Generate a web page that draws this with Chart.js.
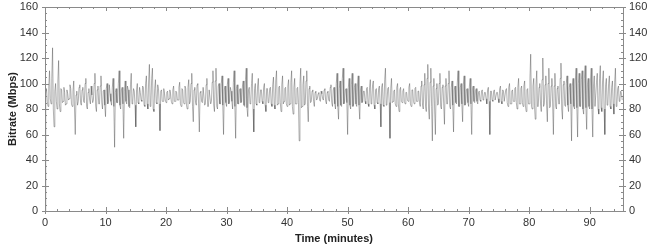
<!DOCTYPE html>
<html>
<head>
<meta charset="utf-8">
<script src="https://cdn.jsdelivr.net/npm/chart.js@4/dist/chart.umd.min.js"></script>
<style>
  html, body { margin: 0; padding: 0; background: #fff; }
  #wrap { width: 650px; height: 246px; }
</style>
</head>
<body>
<div id="wrap"><canvas id="bitrateChart" width="650" height="246"></canvas></div>
<script>
// Bitrate samples, 8 per minute (every 7.5 s)
const STEP_MIN = 0.125;
const bitrate = [
  0, 92, 96, 86, 82, 98, 110, 88,     84, 104, 128, 80, 66, 94, 100, 86,
  80, 102, 118, 84, 78, 96, 95, 85,   86, 97, 93, 83, 84, 95, 92, 87,
  88, 99, 96, 84, 82, 94, 102, 80,    60, 91, 94, 83, 86, 97, 99, 85,
  83, 95, 97, 86, 85, 100, 104, 82,   80, 93, 96, 87, 84, 98, 91, 85,
  87, 100, 108, 82, 78, 95, 98, 84,   84, 98, 106, 85, 80, 94, 95, 83,
  74, 96, 100, 84, 86, 99, 92, 86,    83, 97, 104, 82, 50, 93, 96, 85,
  85, 100, 110, 83, 80, 95, 97, 84,   57, 94, 102, 86, 84, 98, 95, 82,
  81, 99, 108, 84, 86, 96, 94, 83,    66, 95, 100, 85, 84, 97, 93, 87,
  86, 98, 97, 83, 82, 100, 106, 84,   80, 102, 115, 82, 84, 104, 112, 80,
  78, 96, 103, 85, 84, 99, 96, 84,    63, 94, 95, 86, 86, 96, 92, 87,
  85, 93, 94, 87, 88, 95, 92, 86,     84, 95, 98, 86, 86, 94, 93, 87,
  87, 97, 101, 84, 82, 96, 95, 85,    84, 98, 96, 83, 80, 97, 103, 84,
  86, 100, 108, 82, 70, 95, 97, 85,   83, 99, 100, 84, 62, 93, 94, 86,
  85, 97, 97, 83, 84, 99, 104, 82,    82, 95, 95, 84, 86, 101, 110, 83,
  78, 102, 112, 82, 80, 98, 100, 84,  84, 100, 106, 83, 60, 95, 98, 85,
  82, 99, 104, 84, 86, 97, 94, 86,    80, 101, 110, 82, 57, 96, 99, 84,
  84, 95, 96, 85, 86, 98, 102, 83,    82, 103, 112, 81, 74, 95, 97, 84,
  85, 100, 108, 80, 62, 96, 100, 84,  83, 98, 104, 85, 86, 95, 95, 86,
  84, 97, 100, 83, 78, 96, 96, 85,    86, 96, 97, 84, 82, 99, 105, 83,
  80, 102, 110, 83, 84, 97, 98, 85,   78, 99, 106, 84, 86, 96, 97, 84,
  82, 98, 103, 83, 84, 101, 110, 82,  76, 97, 104, 84, 84, 96, 97, 85,
  55, 100, 112, 81, 82, 99, 106, 83,  84, 102, 110, 82, 70, 96, 98, 85,
  86, 94, 95, 86, 82, 93, 94, 87,     88, 92, 93, 87, 86, 94, 92, 88,
  87, 95, 96, 86, 84, 93, 94, 87,     86, 97, 99, 85, 82, 95, 97, 84,
  80, 100, 108, 82, 72, 96, 102, 83,  82, 104, 112, 84, 86, 95, 96, 85,
  60, 97, 104, 83, 80, 99, 108, 82,   84, 97, 100, 84, 82, 98, 106, 83,
  72, 95, 98, 85, 86, 94, 94, 86,     84, 96, 97, 84, 82, 97, 103, 84,
  86, 99, 102, 83, 80, 95, 96, 85,    84, 96, 98, 84, 66, 97, 100, 83,
  82, 103, 112, 83, 84, 96, 97, 85,   57, 96, 104, 85, 86, 94, 95, 84,
  82, 97, 100, 84, 78, 95, 97, 86,    85, 94, 96, 86, 84, 93, 93, 87,
  86, 97, 100, 84, 82, 95, 95, 86,    84, 96, 97, 86, 86, 94, 94, 85,
  82, 98, 102, 83, 80, 99, 108, 82,   78, 104, 115, 80, 72, 101, 112, 82,
  55, 98, 104, 80, 60, 96, 100, 83,   84, 100, 108, 82, 80, 97, 99, 84,
  68, 98, 104, 84, 84, 100, 110, 82,  80, 97, 102, 83, 62, 95, 98, 85,
  84, 101, 110, 82, 82, 97, 100, 84,  70, 99, 106, 83, 84, 95, 96, 85,
  82, 98, 104, 84, 60, 96, 98, 86,    85, 94, 96, 86, 84, 93, 94, 87,
  86, 94, 95, 87, 88, 93, 93, 88,     84, 95, 97, 86, 60, 94, 94, 87,
  86, 94, 95, 87, 87, 93, 93, 88,     85, 96, 98, 86, 84, 95, 94, 86,
  86, 95, 96, 85, 82, 97, 100, 84,    84, 94, 95, 86, 86, 96, 97, 85,
  80, 97, 104, 84, 84, 96, 98, 85,    82, 98, 102, 83, 78, 95, 96, 84,
  84, 104, 123, 82, 80, 98, 104, 83,  72, 99, 110, 82, 82, 97, 100, 84,
  78, 103, 120, 82, 84, 99, 106, 83,  70, 100, 112, 81, 82, 98, 104, 84,
  60, 98, 108, 82, 80, 96, 98, 84,    84, 104, 116, 80, 72, 99, 102, 83,
  82, 100, 106, 83, 78, 97, 100, 84,  55, 98, 104, 82, 80, 102, 112, 81,
  58, 100, 108, 82, 82, 103, 110, 80, 76, 104, 114, 81, 64, 99, 104, 82,
  80, 102, 112, 80, 58, 98, 106, 82,  82, 101, 108, 80, 76, 104, 114, 81,
  78, 102, 110, 80, 60, 99, 104, 83,  84, 100, 106, 82, 80, 97, 102, 84,
  76, 101, 112, 82, 84, 96, 98, 86,   88, 94, 92, 87
];
const xTickLabels = [0, 10, 20, 30, 40, 50, 60, 70, 80, 90];
const yTickLabels = [0, 20, 40, 60, 80, 100, 120, 140, 160];

const points = bitrate.map((v, i) => ({ x: i * STEP_MIN, y: v }));

// Frame and tick marks on all four sides (major + minor)
const frameTicks = {
  id: 'frameTicks',
  afterDraw(chart) {
    const { ctx, chartArea: a, scales } = chart;
    const xs = scales.x, ys = scales.y;
    ctx.save();
    ctx.strokeStyle = '#8a8a8a';
    ctx.lineWidth = 1;
    ctx.beginPath();
    ctx.rect(Math.round(a.left) + 0.5, Math.round(a.top) + 0.5,
      Math.round(a.right - a.left), Math.round(a.bottom - a.top));
    ctx.stroke();
    ctx.beginPath();
    for (let v = 0; v <= 95; v += 2) {
      const px = Math.round(xs.getPixelForValue(v)) + 0.5;
      const major = v % 10 === 0;
      const len = major ? 4 : 2;
      ctx.moveTo(px, a.bottom - len); ctx.lineTo(px, a.bottom + (major ? 3 : 0));
      ctx.moveTo(px, a.top); ctx.lineTo(px, a.top + len);
    }
    for (let v = 0; v <= 160; v += 5) {
      const py = Math.round(ys.getPixelForValue(v)) + 0.5;
      const major = v % 20 === 0;
      const len = major ? 4 : 2;
      ctx.moveTo(a.left - (major ? 3 : 0), py); ctx.lineTo(a.left + len, py);
      ctx.moveTo(a.right - len, py); ctx.lineTo(a.right + (major ? 3 : 0), py);
    }
    ctx.stroke();
    ctx.restore();
  }
};

const tickFont = { family: 'Liberation Sans, Arial, sans-serif', size: 11 };
const titleFont = { family: 'Liberation Sans, Arial, sans-serif', size: 11, weight: 'bold' };

// keep the plot top at 7px: override the label padding chart.js adds
const fixVertical = width => s => { s.width = width; s.paddingTop = 7; s.paddingBottom = 0; };

new Chart(document.getElementById('bitrateChart'), {
  type: 'line',
  data: {
    datasets: [{
      label: 'Bitrate (Mbps)',
      data: points,
      borderColor: 'rgba(70, 70, 70, 0.6)',
      borderWidth: 0.7,
      pointRadius: 0,
      tension: 0,
      fill: false
    }]
  },
  options: {
    responsive: false,
    animation: false,
    devicePixelRatio: 1,
    layout: { padding: 0 },
    plugins: { legend: { display: false }, tooltip: { enabled: false } },
    scales: {
      x: {
        type: 'linear',
        min: 0,
        max: 95.5,
        afterFit: s => { s.height = 35; },
        afterBuildTicks: s => { s.ticks = xTickLabels.map(v => ({ value: v })); },
        grid: { display: false, drawTicks: false },
        border: { display: false },
        ticks: { color: '#333', font: tickFont, padding: 5, maxRotation: 0 },
        title: { display: true, text: 'Time (minutes)', color: '#222', font: titleFont, padding: { top: 6, bottom: 0 } }
      },
      y: {
        min: 0,
        max: 160,
        afterFit: fixVertical(45),
        afterBuildTicks: s => { s.ticks = yTickLabels.map(v => ({ value: v })); },
        grid: { display: false, drawTicks: false },
        border: { display: false },
        ticks: { color: '#333', font: tickFont, padding: 7 },
        title: { display: true, text: 'Bitrate (Mbps)', color: '#222', font: titleFont, padding: { top: 6, bottom: 2 } }
      },
      y2: {
        position: 'right',
        min: 0,
        max: 160,
        afterFit: fixVertical(27),
        afterBuildTicks: s => { s.ticks = yTickLabels.map(v => ({ value: v })); },
        grid: { display: false, drawTicks: false },
        border: { display: false },
        ticks: { color: '#333', font: tickFont, padding: 6 }
      }
    }
  },
  plugins: [frameTicks]
});
</script>
</body>
</html>
